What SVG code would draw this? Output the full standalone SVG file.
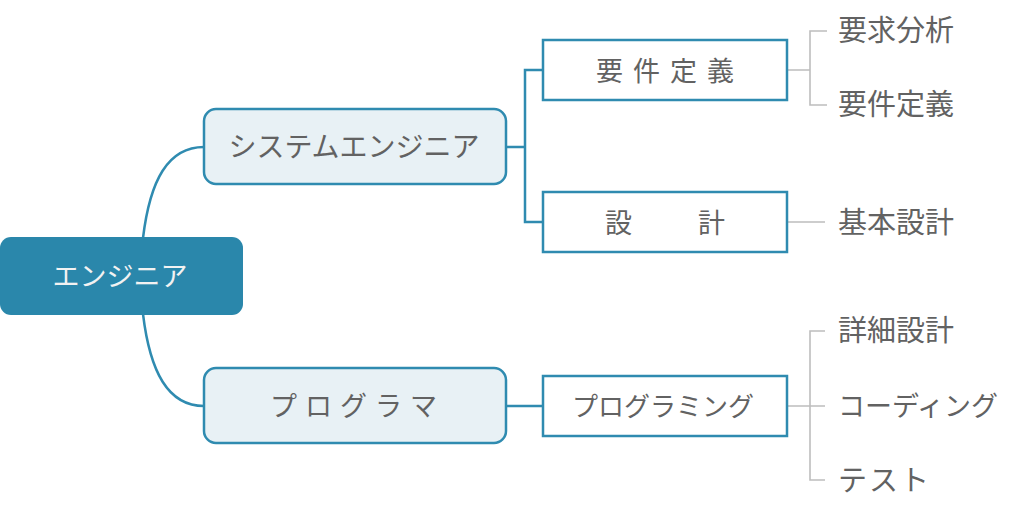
<svg xmlns="http://www.w3.org/2000/svg" width="1024" height="516" viewBox="0 0 1024 516">
<style>
text{font-family:"Noto Sans CJK JP","Noto Sans",sans-serif;dominant-baseline:central;text-anchor:middle;fill:#626262;font-weight:400}
.mid{fill:#e8f1f5;stroke:#2f8bb0;stroke-width:2.5}
.sub{fill:#ffffff;stroke:#2f8bb0;stroke-width:2.5}
.blue{fill:none;stroke:#2f8bb0;stroke-width:2.5}
.gray{fill:none;stroke:#bdbdbd;stroke-width:1.6}
.lbl{text-anchor:start;font-size:29px}
</style>
<g id="connectors">
<path class="blue" d="M143,238 C150,180 168,147 204,147"/>
<path class="blue" d="M143,314 C150,372 168,406 204,406"/>
<path class="blue" d="M506,147 H525 M543,70 H525 V222 H543"/>
<path class="blue" d="M506,406 H543"/>
<path class="gray" d="M787,70 H810 M827,31 H810 V105 H827"/>
<path class="gray" d="M787,222 H825"/>
<path class="gray" d="M787,406 H825 M825,331 H810 V480 H825"/>
</g>
<g id="root">
<rect x="0" y="237" width="243" height="78" rx="11" fill="#2a87ab"/>
<text x="120" y="274" font-size="27" style="fill:#f2f2f2">エンジニア</text>
</g>
<g id="se">
<rect class="mid" x="204" y="109" width="302" height="75" rx="12"/>
<text x="354" y="145" font-size="28">システムエンジニア</text>
</g>
<g id="pg">
<rect class="mid" x="204" y="368" width="302" height="75" rx="12"/>
<text x="354" y="404" font-size="27" letter-spacing="1">プ ロ グ ラ マ</text>
</g>
<g id="req">
<rect class="sub" x="543" y="40" width="244" height="60"/>
<text x="666" y="69" font-size="27" letter-spacing="2">要 件 定 義</text>
</g>
<g id="design">
<rect class="sub" x="543" y="192" width="244" height="60"/>
<text x="667" y="221" font-size="27" letter-spacing="4">設　　計</text>
</g>
<g id="prog">
<rect class="sub" x="543" y="376" width="244" height="60"/>
<text x="663" y="404" font-size="26">プログラミング</text>
</g>
<g id="l1"><text class="lbl" x="838" y="28">要求分析</text></g>
<g id="l2"><text class="lbl" x="838" y="102">要件定義</text></g>
<g id="l3"><text class="lbl" x="838" y="220">基本設計</text></g>
<g id="l4"><text class="lbl" x="838" y="328">詳細設計</text></g>
<g id="l5"><text class="lbl" x="838" y="404" style="font-size:27px">コーディング</text></g>
<g id="l6"><text class="lbl" x="838" y="478" letter-spacing="2">テスト</text></g>
</svg>
